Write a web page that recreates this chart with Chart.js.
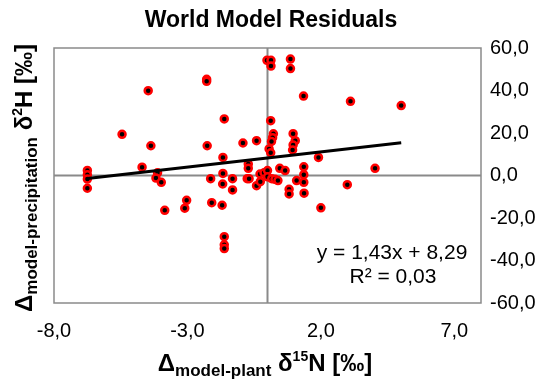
<!DOCTYPE html>
<html>
<head>
<meta charset="utf-8">
<script src="https://cdn.jsdelivr.net/npm/chart.js@4.4.1/dist/chart.umd.min.js"></script>
<style>
  body { margin: 0; background: #fff; }
  #wrap { width: 541px; height: 385px; }
</style>
</head>
<body>
<div id="wrap"><canvas id="residChart" width="541" height="385"></canvas></div>
<script>
// Residuen (Modell - Pflanze) gegen (Modell - Niederschlag)
const residX = [
    -6.75, -6.75, -6.75, -6.75, -5.45, -4.70, -4.47, -4.37, -4.12, -4.18,
    -3.98, -3.85, -3.03, -3.10, -2.28, -2.28, -2.26, -2.13, -2.09, -1.70,
    -1.67, -1.67, -1.68, -1.62, -1.62, -1.62, -1.62, -1.31, -1.31, -0.92,
    -0.72, -0.72, -0.76, -0.69, -0.41, -0.41, -0.28, -0.27, -0.13, 0.00,
    0.00, 0.16, 0.28, 0.39, 0.46, 0.66, -0.02, 0.13, 0.13, 0.12,
    0.22, 0.19, 0.15, 0.06, 0.12, 0.86, 0.86, 1.35, 0.96, 1.04,
    0.96, 0.94, 1.36, 1.36, 1.36, 1.37, 1.09, 0.81, 0.81, 1.91,
    2.00, 2.99, 3.11, 4.03, 5.01
];
const residY = [
    2.4, 0.3, -1.7, -6.0, 19.4, 3.9, 39.9, 14.0, 1.3, -1.2,
    -3.2, -16.4, -11.7, -15.4, 45.3, 44.3, 14.0, -1.5, -12.8, -14.0,
    8.5, 1.0, -4.0, 26.6, -28.8, -32.6, -34.4, -1.5, -6.8, 15.3,
    5.4, 3.4, -1.5, -1.5, 16.4, -4.8, 0.7, -2.9, 1.3, 2.3,
    -0.6, -1.5, -1.8, -2.4, 3.4, 2.3, 54.2, 54.2, 51.5, 25.8,
    19.6, 17.8, 16.0, 12.5, 10.7, 54.8, 50.3, 37.4, 19.7, 16.4,
    14.4, 12.0, 4.1, 0.4, -3.2, -8.3, -2.4, -6.5, -8.7, 8.5,
    -15.2, -4.3, 34.9, 3.4, 32.9
];

const trendX = [-6.75, 5.01];
const trendY = [-1.36, 15.45];
const equationLines = ['y = 1,43x + 8,29', 'R² = 0,03'];
const chartTitle = 'World Model Residuals';

// Achsen
const xTickValues = [-8, -3, 2, 7];
const yTickValues = [-60, -40, -20, 0, 20, 40, 60];
const xRange = [-8, 8];
const yRange = [-60, 60];

const FONT = "'Liberation Sans', Arial, sans-serif";
const GRAU = '#8a8a8a';

Chart.defaults.font.family = FONT;
Chart.defaults.color = '#000';

function fmtKomma(v) {
    return v.toFixed(1).replace('.', ',');
}

// Rahmen + Nulllinien
const rahmenPlugin = {
    id: 'rahmen',
    beforeDatasetsDraw(chart) {
        const { ctx, chartArea: a, scales } = chart;
        const x0 = scales.x.getPixelForValue(0);
        const y0 = scales.y.getPixelForValue(0);
        ctx.save();
        ctx.strokeStyle = GRAU;
        ctx.lineWidth = 2;
        ctx.beginPath();
        ctx.moveTo(x0, a.top); ctx.lineTo(x0, a.bottom);
        ctx.moveTo(a.left, y0); ctx.lineTo(a.right, y0);
        ctx.stroke();
        ctx.lineWidth = 1.5;
        ctx.strokeRect(a.left, a.top, a.right - a.left, a.bottom - a.top);
        ctx.restore();
    }
};

// Text mit Tief-/Hochstellung zeichnen (zentriert)
function drawRich(ctx, parts, cx, cy) {
    let total = 0;
    parts.forEach(p => {
        ctx.font = 'bold ' + p.size + 'px ' + FONT;
        p.w = ctx.measureText(p.text).width;
        total += p.w;
    });
    let x = cx - total / 2;
    ctx.textBaseline = 'alphabetic';
    ctx.textAlign = 'left';
    parts.forEach(p => {
        ctx.font = 'bold ' + p.size + 'px ' + FONT;
        ctx.fillText(p.text, x, cy + p.dy);
        x += p.w;
    });
}

const textePlugin = {
    id: 'texte',
    afterDraw(chart) {
        const { ctx } = chart;
        ctx.save();
        ctx.fillStyle = '#000';

        // Titel
        ctx.font = 'bold 23px ' + FONT;
        ctx.textAlign = 'center';
        ctx.textBaseline = 'middle';
        ctx.fillText(chartTitle, 271, 21);

        // x-Achse
        drawRich(ctx, [
            { text: 'Δ', size: 24, dy: 0 },
            { text: 'model-plant', size: 17, dy: 5 },
            { text: ' δ', size: 24, dy: 0 },
            { text: '15', size: 14, dy: -10 },
            { text: 'N [‰]', size: 24, dy: 0 }
        ], 265, 371);
        // y-Achse
        ctx.translate(32, 178);
        ctx.rotate(-Math.PI / 2);
        drawRich(ctx, [
            { text: 'Δ', size: 24, dy: 0 },
            { text: 'model-precipitation', size: 17, dy: 5 },
            { text: ' δ', size: 24, dy: 0 },
            { text: '2', size: 14, dy: -10 },
            { text: 'H [‰]', size: 24, dy: 0 }
        ], 0, 0);
        ctx.restore();

        // Gleichung der Trendlinie
        ctx.save();
        ctx.font = '21px ' + FONT;
        ctx.textAlign = 'center';
        ctx.textBaseline = 'middle';
        ctx.fillStyle = '#000';
        ctx.fillText(equationLines[0], 392, 253);
        ctx.fillText(equationLines[1], 393, 277);
        ctx.restore();
    }
};

const ctx = document.getElementById('residChart').getContext('2d');
new Chart(ctx, {
    type: 'scatter',
    data: {
        datasets: [
            {
                type: 'line',
                label: 'Trend',
                data: trendX.map((x, i) => ({ x: x, y: trendY[i] })),
                borderColor: '#000',
                borderWidth: 3,
                pointRadius: 0,
                fill: false
            },
            {
                label: 'Residuen',
                data: residX.map((x, i) => ({ x: x, y: residY[i] })),
                backgroundColor: '#000',
                borderColor: '#ff0000',
                borderWidth: 2.5,
                pointRadius: 3.5
            }
        ]
    },
    options: {
        responsive: false,
        animation: false,
        layout: { padding: { left: 54, top: 48, right: 0, bottom: 0 } },
        plugins: {
            legend: { display: false },
            tooltip: { enabled: false },
            title: { display: false }
        },
        scales: {
            x: {
                type: 'linear',
                position: 'bottom',
                min: xRange[0],
                max: xRange[1],
                grid: { display: false, drawTicks: false },
                border: { display: false },
                afterBuildTicks: s => { s.ticks = xTickValues.map(v => ({ value: v })); },
                afterFit: s => { s.height = 82; },
                ticks: {
                    font: { size: 20 },
                    padding: 16,
                    maxRotation: 0,
                    callback: v => fmtKomma(v)
                }
            },
            y: {
                type: 'linear',
                position: 'right',
                min: yRange[0],
                max: yRange[1],
                grid: { display: false, drawTicks: false },
                border: { display: false },
                afterBuildTicks: s => { s.ticks = yTickValues.map(v => ({ value: v })); },
                afterFit: s => { s.width = 60; },
                ticks: {
                    font: { size: 20 },
                    padding: 9,
                    callback: v => fmtKomma(v)
                }
            }
        }
    },
    plugins: [rahmenPlugin, textePlugin]
});
</script>
</body>
</html>
